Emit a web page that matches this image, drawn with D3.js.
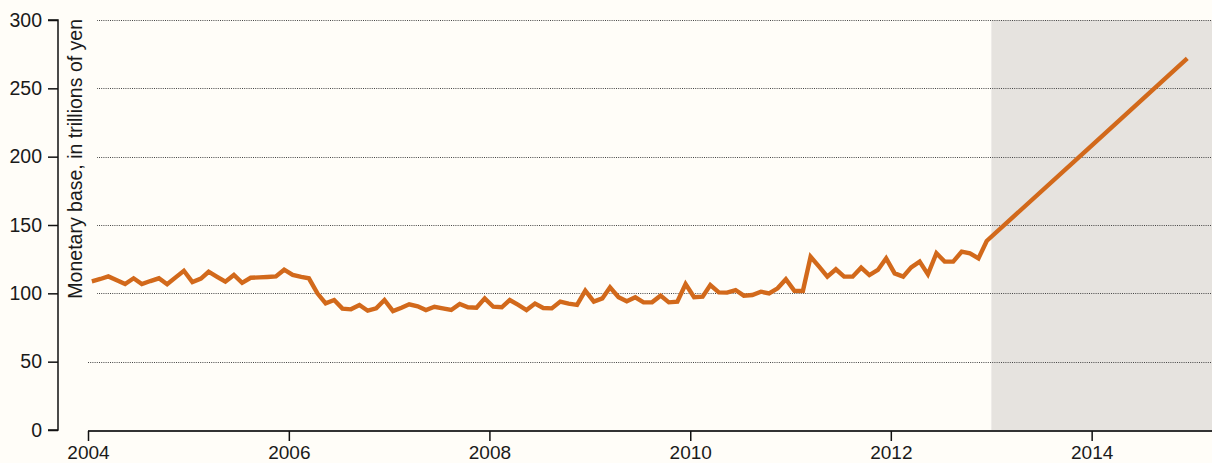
<!DOCTYPE html>
<html>
<head>
<meta charset="utf-8">
<script src="https://cdn.jsdelivr.net/npm/d3@7"></script>
<style>
  html, body { margin: 0; padding: 0; background: #fffdf8; }
  svg { display: block; font-family: "Liberation Sans", Arial, sans-serif; }
</style>
</head>
<body>
<svg id="chart" width="1212" height="463"></svg>
<script>
// Japan's monetary base, trillions of yen (monthly), with the 2013–2014 target path
const base2004 = [108.8, 110.5, 112.4, 109.6, 106.8, 111.0, 106.8, 109.0, 111.0, 106.6, 111.7, 116.5];
const base2005 = [108.3, 110.8, 115.8, 112.0, 108.5, 113.4, 107.7, 111.4, 111.7, 112.0, 112.4, 117.3];
const base2006 = [113.5, 112.0, 111.0, 100.0, 92.7, 95.1, 88.8, 88.3, 91.5, 87.3, 89.0, 95.1];
const base2007 = [87.0, 89.5, 92.0, 90.5, 87.8, 90.2, 89.0, 87.8, 92.2, 89.8, 89.5, 96.3];
const base2008 = [90.2, 89.8, 95.1, 91.5, 87.8, 92.5, 89.3, 89.0, 94.0, 92.5, 91.5, 101.9];
const base2009 = [93.9, 96.3, 104.4, 97.1, 94.2, 97.1, 93.4, 93.4, 98.3, 93.4, 93.9, 106.8];
const base2010 = [97.1, 97.6, 106.1, 100.7, 100.5, 102.4, 98.3, 98.8, 101.2, 100.0, 103.7, 110.3];
const base2011 = [101.9, 101.7, 126.8, 119.5, 112.2, 117.6, 112.2, 112.2, 118.8, 113.4, 117.1, 125.6];
const base2012 = [114.6, 112.2, 119.0, 123.2, 113.9, 129.3, 123.2, 123.2, 130.5, 129.3, 125.6, 138.3];

const historyYears = [2004, 2005, 2006, 2007, 2008, 2009, 2010, 2011, 2012];
const historyValues = [base2004, base2005, base2006, base2007, base2008, base2009, base2010, base2011, base2012];

// Target path: end of 2013 and end of 2014
const targetYears = [2013, 2014];
const targetValues = [205, 272];

const yTicks = [0, 50, 100, 150, 200, 250, 300];
const gridTicks = [50, 100, 150, 200, 250, 300];
const xTickYears = [2004, 2006, 2008, 2010, 2012, 2014];
const shadeStartYear = 2013;
const yLabel = "Monetary base, in trillions of yen";

// Build the monthly series (points at mid-month)
const series = [];
historyYears.forEach((yr, i) => {
  historyValues[i].forEach((v, m) => series.push({ date: new Date(yr, m, 15), value: v }));
});
targetYears.forEach((yr, i) => series.push({ date: new Date(yr, 11, 15), value: targetValues[i] }));

const svg = d3.select("#chart");
const W = 1212, H = 463;

const x = d3.scaleTime()
  .domain([new Date(2004, 0, 1), new Date(2015, 2, 15)])
  .range([88, 1212]);
const y = d3.scaleLinear().domain([0, 300]).range([430, 20]);

svg.append("rect").attr("width", W).attr("height", H).attr("fill", "#fffdf8");

// Shaded projection period
svg.append("rect")
  .attr("x", x(new Date(shadeStartYear, 0, 1)))
  .attr("y", y(300))
  .attr("width", W - x(new Date(shadeStartYear, 0, 1)))
  .attr("height", y(0) - y(300))
  .attr("fill", "#e6e3df");

// Dotted gridlines
svg.append("g").selectAll("line").data(gridTicks).join("line")
  .attr("x1", 88).attr("x2", W)
  .attr("y1", d => Math.round(y(d)) + 0.5).attr("y2", d => Math.round(y(d)) + 0.5)
  .attr("stroke", "#444").attr("stroke-width", 1).attr("stroke-dasharray", "1,1.2");

// Axis title with a background panel behind it
svg.append("rect").attr("x", 60).attr("y", 12).attr("width", 37).attr("height", 289).attr("fill", "#fffdf8");
svg.append("text")
  .attr("transform", "translate(82,19) rotate(-90)")
  .attr("text-anchor", "end")
  .attr("font-size", 19.5)
  .attr("fill", "#1a1a1a")
  .text(yLabel);

// Y axis
const yAxis = d3.axisLeft(y).tickValues(yTicks).tickSize(10).tickPadding(6).tickFormat(d3.format("d"));
const gy = svg.append("g").attr("transform", "translate(58,0)").call(yAxis);
gy.select(".domain").attr("stroke", "#111").attr("stroke-width", 1.5).attr("d", `M-10,${y(300)}H0V${y(0)}H-10`);
gy.selectAll(".tick line").attr("stroke", "#111").attr("stroke-width", 1.5);
gy.selectAll(".tick text").attr("font-size", 19.5).attr("fill", "#1a1a1a")
  .attr("font-family", "'Liberation Sans', Arial, sans-serif");

// X axis
const xAxis = d3.axisBottom(x)
  .tickValues(xTickYears.map(yr => new Date(yr, 0, 1)))
  .tickSize(10).tickPadding(5)
  .tickFormat(d3.timeFormat("%Y"));
const gx = svg.append("g").attr("transform", "translate(0,431)").call(xAxis);
gx.select(".domain").attr("stroke", "#333").attr("stroke-width", 2).attr("d", `M88,0H${W}`);
gx.selectAll(".tick line").attr("stroke", "#111").attr("stroke-width", 1.5);
gx.selectAll(".tick text").attr("font-size", 19).attr("fill", "#1a1a1a")
  .attr("font-family", "'Liberation Sans', Arial, sans-serif");

// Monetary base line
const line = d3.line().x(d => x(d.date)).y(d => y(d.value));
svg.append("path")
  .datum(series)
  .attr("d", line)
  .attr("fill", "none")
  .attr("stroke", "#d2691b")
  .attr("stroke-width", 4.4)
  .attr("stroke-linejoin", "miter")
  .attr("stroke-miterlimit", 3);
</script>
</body>
</html>
